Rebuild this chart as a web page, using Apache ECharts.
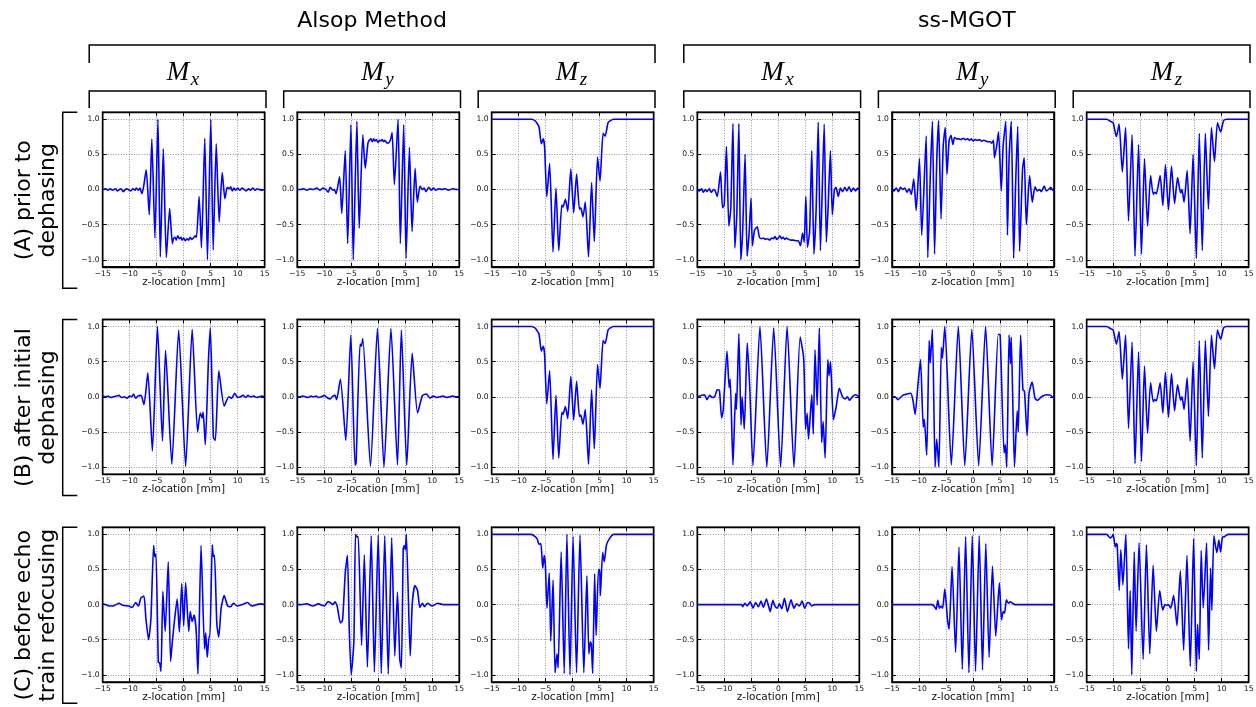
<!DOCTYPE html>
<html><head><meta charset="utf-8">
<script src="https://cdn.jsdelivr.net/npm/echarts@6.0.0/dist/echarts.min.js"></script>
<style>html,body{margin:0;padding:0;background:#fff}#c{width:1256px;height:707px}</style>
</head><body><div id="c"></div>
<script>
// ---------- tick labels / categories ----------
const xTicks = [-15, -10, -5, 0, 5, 10, 15];
const methods = ['Alsop Method', 'ss-MGOT'];
const components = ['x', 'y', 'z'];
const rowLabels = ['(A) prior to\ndephasing', '(B) after initial\ndephasing', '(C) before echo\ntrain refocusing'];
const xName = 'z-location [mm]';

// ---------- series values: [z (mm), magnetization] ----------
const alsopPriorMx = [[-15,0.0],[-14.5,0.01],[-14,-0.01],[-13.6,0.01],[-13.2,-0.01],[-12.6,0.01],[-12.3,-0.02],[-11.9,0.0],[-11.6,0.01],[-11.2,-0.03],[-10.8,0.0],[-10.5,0.01],[-10.1,-0.01],[-9.8,-0.02],[-9.4,0.01],[-9.0,-0.01],[-8.8,0.02],[-8.4,-0.01],[-8.1,0.02],[-7.75,-0.06],[-7.4,0.05],[-6.94,0.28],[-6.38,-0.36],[-5.9,0.72],[-5.33,-0.69],[-4.77,1.0],[-4.33,-0.96],[-3.78,0.58],[-3.22,-0.97],[-2.6,-0.27],[-2.1,-0.77],[-1.9,-0.7],[-1.6,-0.68],[-1.4,-0.72],[-1.1,-0.66],[-0.8,-0.7],[-0.5,-0.68],[-0.3,-0.72],[0,-0.69],[0.3,-0.73],[0.6,-0.7],[0.9,-0.72],[1.2,-0.68],[1.5,-0.71],[1.8,-0.69],[2.1,-0.66],[2.36,-0.68],[2.86,-0.1],[3.29,-0.83],[3.9,0.73],[4.4,-1.0],[5.02,1.0],[5.46,-0.86],[6.02,0.65],[6.57,-0.46],[7.13,0.24],[7.63,-0.13],[8.06,0.03],[8.4,0.01],[8.7,0.04],[9.0,-0.02],[9.3,0.02],[9.6,-0.01],[10.0,0.02],[10.4,-0.01],[10.8,0.02],[11.2,0.0],[11.6,-0.02],[12.0,0.01],[12.4,-0.01],[12.8,0.02],[13.2,-0.01],[13.6,0.01],[14.0,0.0],[14.5,-0.01],[15,0.0]];
const alsopPriorMy = [[-15,0],[-14.4,0.0],[-13.8,0.01],[-13.2,-0.01],[-12.6,0.01],[-12.0,0.0],[-11.4,0.02],[-10.8,-0.01],[-10.2,0.02],[-9.7,0.0],[-9.25,-0.04],[-8.9,0.03],[-8.4,-0.01],[-8.1,0.0],[-7.8,-0.06],[-7.15,0.18],[-6.75,-0.34],[-6.1,0.55],[-5.65,-0.77],[-5.05,0.92],[-4.62,-1.0],[-3.95,0.97],[-3.52,-0.55],[-2.85,0.78],[-2.4,0.3],[-1.9,0.66],[-1.65,0.7],[-1.35,0.72],[-1.1,0.68],[-0.85,0.72],[-0.6,0.69],[-0.35,0.71],[-0.05,0.67],[0.25,0.7],[0.5,0.69],[0.75,0.71],[1.0,0.68],[1.25,0.7],[1.5,0.67],[1.85,0.66],[2.25,0.7],[2.58,0.81],[3.0,0.07],[3.68,1.0],[4.1,-0.77],[4.72,0.92],[5.16,-0.98],[5.78,0.6],[6.27,-0.6],[6.83,0.3],[7.25,-0.18],[7.75,0.05],[8.15,0.0],[8.5,0.02],[8.85,-0.03],[9.35,0.03],[9.8,-0.01],[10.2,0.02],[10.7,-0.01],[11.2,0.01],[11.8,0.0],[12.4,0.01],[13.0,-0.01],[13.8,0.01],[14.4,0.0],[15,0.0]];
const alsopMz = [[-15,1],[-12,1],[-9,1],[-7.6,1.0],[-7.0,0.98],[-6.67,0.95],[-6.23,0.89],[-5.8,0.65],[-5.45,0.72],[-5.2,0.6],[-4.8,-0.1],[-4.27,0.37],[-3.65,-0.89],[-3.1,0.02],[-2.58,-0.87],[-2.02,-0.22],[-1.8,-0.25],[-1.35,-0.14],[-0.92,-0.31],[-0.35,0.29],[0.18,-0.33],[0.72,0.22],[1.25,-0.28],[1.5,-0.26],[1.9,-0.39],[2.33,-0.18],[2.93,-0.96],[3.5,0.1],[4.0,-0.74],[4.6,0.46],[5.06,0.12],[5.62,0.8],[6.0,0.76],[6.55,0.95],[7.0,0.98],[7.5,1.0],[9,1],[12,1],[15,1]];
const ssPriorMx = [[-15,0.0],[-14.6,-0.02],[-14.2,0.01],[-13.9,-0.04],[-13.5,0.0],[-13.2,-0.03],[-12.8,0.01],[-12.4,-0.04],[-12.0,0.0],[-11.7,-0.02],[-11.3,-0.1],[-10.7,0.25],[-10.33,-0.26],[-10.02,-0.22],[-9.6,0.61],[-9.16,-0.52],[-8.8,-0.27],[-8.4,0.94],[-8.05,-0.83],[-7.7,-0.38],[-7.3,0.94],[-6.95,-1.0],[-6.6,-0.59],[-6.15,0.5],[-5.78,-0.95],[-5.4,-0.62],[-5.05,-0.12],[-4.8,-0.8],[-4.4,-0.58],[-3.9,-0.53],[-3.5,-0.68],[-3.1,-0.7],[-2.8,-0.69],[-2.4,-0.71],[-2.0,-0.7],[-1.6,-0.72],[-1.2,-0.69],[-0.9,-0.7],[-0.6,-0.67],[-0.3,-0.71],[0,-0.69],[0.3,-0.66],[0.6,-0.7],[0.9,-0.68],[1.2,-0.71],[1.5,-0.69],[1.9,-0.71],[2.3,-0.72],[2.8,-0.72],[3.3,-0.73],[3.7,-0.73],[4.1,-0.8],[4.5,-0.62],[4.8,-0.75],[5.1,-0.1],[5.4,-0.82],[5.8,-0.6],[6.2,0.55],[6.6,-0.92],[7.0,-0.3],[7.4,0.96],[7.8,-0.87],[8.5,0.93],[8.9,-0.75],[9.2,-0.3],[9.65,0.55],[10.0,-0.36],[10.4,0.0],[10.7,0.03],[11.1,-0.1],[11.5,0.02],[11.9,-0.03],[12.3,0.03],[12.7,-0.02],[13.1,0.04],[13.5,-0.03],[13.9,0.02],[14.3,-0.02],[14.7,0.02],[15,0.0]];
const ssPriorMy = [[-15,0.0],[-14.6,-0.02],[-14.2,0.02],[-13.8,-0.03],[-13.4,0.03],[-13.0,0.0],[-12.6,0.02],[-12.2,-0.04],[-11.8,0.01],[-11.4,-0.07],[-10.95,0.15],[-10.5,-0.3],[-9.9,0.44],[-9.47,-0.65],[-8.65,0.76],[-8.35,-0.97],[-7.85,0.3],[-7.5,0.97],[-7.1,-0.92],[-6.7,0.4],[-6.35,0.98],[-5.9,-0.42],[-5.5,0.62],[-5.12,0.88],[-4.8,0.22],[-4.4,0.7],[-4.05,0.77],[-3.7,0.64],[-3.4,0.74],[-3.0,0.72],[-2.6,0.72],[-2.2,0.71],[-1.8,0.73],[-1.4,0.71],[-1.0,0.72],[-0.6,0.7],[-0.3,0.72],[0,0.69],[0.4,0.71],[0.8,0.7],[1.2,0.71],[1.6,0.69],[2.0,0.7],[2.4,0.69],[2.8,0.68],[3.2,0.68],[3.5,0.66],[3.8,0.7],[4.0,0.45],[4.4,0.62],[4.75,0.82],[5.25,-0.02],[5.6,0.62],[6.1,0.97],[6.4,-0.65],[6.7,0.44],[7.1,0.97],[7.55,-0.98],[7.9,0.05],[8.3,0.9],[8.65,-0.88],[9.2,0.3],[9.5,0.45],[9.9,-0.5],[10.5,0.2],[11.0,-0.18],[11.5,0.04],[11.9,-0.02],[12.3,0.0],[12.7,-0.03],[13.2,0.05],[13.6,-0.02],[14.0,0.0],[14.4,0.03],[14.8,-0.01],[15,-0.02]];
const ssMz = [[-15,1],[-13,1],[-11.3,1.0],[-10.6,0.97],[-10.1,0.95],[-9.5,0.75],[-9.0,0.93],[-8.4,0.25],[-7.8,0.88],[-7.25,-0.45],[-6.6,0.78],[-6.05,-0.95],[-5.4,0.64],[-4.86,-0.92],[-4.3,0.44],[-3.73,-0.52],[-3.17,0.2],[-2.68,-0.07],[-2.4,-0.04],[-2.1,-0.06],[-1.4,0.2],[-0.9,-0.23],[-0.42,0.35],[0.14,-0.29],[0.7,0.33],[1.27,-0.2],[1.83,0.17],[2.4,-0.05],[2.65,0.0],[3.03,-0.18],[3.6,0.27],[4.15,-0.63],[4.7,0.5],[5.3,-0.98],[5.85,0.8],[6.4,-0.87],[6.97,0.8],[7.54,-0.28],[8.1,0.88],[8.66,0.4],[9.22,0.95],[9.8,0.82],[10.35,0.98],[10.9,1.0],[13,1],[15,1]];

const alsopAfterMx = [[-15,0.01],[-14.5,0.0],[-14,0.01],[-13.5,-0.01],[-13,0.0],[-12.5,0.01],[-12.0,0.02],[-11.5,-0.01],[-11.0,0.0],[-10.5,-0.02],[-10.0,0.01],[-9.6,0.0],[-9.3,0.04],[-8.9,-0.02],[-8.5,0.01],[-7.9,0.02],[-7.36,-0.11],[-6.64,0.34],[-5.8,-0.77],[-4.86,1.0],[-3.93,-0.63],[-3.36,0.66],[-2.2,-0.96],[-0.93,0.95],[0.36,-0.99],[1.57,0.96],[2.57,-0.5],[3.07,-0.23],[3.4,-0.3],[3.6,-0.22],[4.0,-0.68],[4.57,0.5],[4.93,0.98],[5.5,-0.58],[5.86,-0.62],[6.5,0.37],[7.5,-0.13],[8.36,0.0],[8.9,-0.02],[9.43,0.05],[10.0,-0.01],[10.5,0.0],[11.0,0.02],[11.5,-0.01],[11.9,0.02],[12.4,0.0],[13.0,0.01],[13.5,-0.01],[14.0,0.0],[14.5,0.01],[15,0.0]];
const alsopAfterMy = [[-15,0.0],[-14.5,0.0],[-14,0.01],[-13.5,0.0],[-13,-0.01],[-12.5,0.01],[-12,0.0],[-11.5,0.01],[-11,-0.01],[-10.5,0.0],[-10,0.02],[-9.5,-0.01],[-8.9,-0.03],[-8.4,0.01],[-8.0,0.02],[-7.7,-0.04],[-7.0,0.25],[-6.0,-0.62],[-5.07,0.88],[-4.29,-0.97],[-4.1,-0.95],[-3.36,0.75],[-3.1,0.72],[-2.86,0.83],[-1.43,-0.99],[-0.14,0.97],[1.07,-1.0],[2.36,0.97],[3.57,-0.97],[4.29,0.95],[5.29,-0.97],[6.29,0.62],[7.29,-0.23],[8.2,0.02],[8.9,0.04],[9.6,-0.02],[10.2,0.01],[10.8,-0.01],[11.4,0.0],[12,0.01],[12.6,-0.01],[13.2,0.0],[13.8,0.01],[14.4,0.0],[15,0.0]];
const ssAfterMx = [[-15,0.0],[-14.3,0.02],[-13.7,0.03],[-13.2,-0.04],[-12.7,0.02],[-12.2,-0.01],[-11.8,0.0],[-11.3,0.1],[-10.9,0.09],[-10.5,-0.3],[-10.2,-0.19],[-9.5,0.65],[-9.1,0.13],[-8.9,0.25],[-8.4,-0.97],[-7.9,0.05],[-7.75,-0.18],[-7.3,0.9],[-6.9,-0.4],[-6.7,0.0],[-6.3,-0.46],[-5.75,0.77],[-5.3,0.15],[-4.7,-0.98],[-3.4,1.0],[-2.13,-1.0],[-0.85,0.98],[0.43,-1.0],[1.63,1.0],[2.9,-1.0],[4.05,0.85],[4.7,0.55],[5.05,-0.46],[5.33,-0.23],[5.6,-0.6],[6.2,0.03],[6.47,-0.53],[6.8,0.67],[7.2,-0.12],[7.6,0.98],[8.03,-0.65],[8.3,-0.35],[8.67,-0.87],[9.17,0.53],[9.4,0.3],[9.67,0.5],[10.2,-0.33],[10.7,-0.15],[11.3,0.12],[11.9,0.0],[12.4,-0.03],[12.8,0.0],[13.2,-0.05],[13.7,0.0],[14.3,0.03],[15,0.0]];
const ssAfterMy = [[-15,0.0],[-14.4,0.0],[-13.9,-0.04],[-13.0,0.02],[-12.2,0.04],[-11.5,0.05],[-11.1,-0.05],[-10.7,-0.25],[-10.2,0.15],[-9.7,0.53],[-9.2,-0.43],[-9.0,-0.32],[-8.55,-0.83],[-8.1,0.8],[-7.9,0.48],[-7.5,0.96],[-7.0,-1.0],[-6.7,-0.6],[-6.3,-1.0],[-5.85,0.7],[-5.65,0.55],[-5.2,1.0],[-4.0,-0.97],[-2.7,1.0],[-1.5,-0.98],[-0.2,0.96],[1.07,-0.98],[2.35,1.0],[3.56,-0.98],[4.7,0.89],[5.05,0.88],[5.77,-0.8],[6.0,-0.68],[6.27,-1.0],[6.7,0.88],[6.98,0.47],[7.1,0.85],[7.7,-1.0],[8.2,-0.2],[8.4,-0.5],[8.83,0.88],[9.26,0.1],[9.55,0.08],[10.04,-0.55],[10.4,0.05],[10.97,0.21],[11.5,-0.02],[12.0,-0.05],[12.7,0.0],[13.7,0.03],[14.4,0.02],[15,-0.02]];

const alsopEchoMx = [[-15,0.01],[-14.5,0.0],[-13.8,-0.02],[-13.1,-0.02],[-12.5,0.0],[-12.0,0.02],[-11.3,-0.01],[-10.2,-0.02],[-9.5,-0.04],[-8.9,0.03],[-8.4,-0.02],[-7.9,0.1],[-7.36,0.12],[-7.0,-0.2],[-6.5,-0.5],[-6.07,-0.2],[-5.57,0.84],[-5.36,0.68],[-5.14,0.72],[-4.7,-0.82],[-4.45,-0.83],[-4.2,-0.95],[-3.86,0.19],[-3.43,-0.38],[-2.86,0.61],[-2.43,-0.81],[-2.07,-0.5],[-1.64,-0.18],[-1.21,0.08],[-0.8,-0.39],[-0.36,0.3],[0,-0.3],[0.36,0.31],[0.93,-0.38],[1.21,-0.1],[1.57,-0.24],[1.93,-0.15],[2.3,-0.36],[2.64,-0.99],[3.21,0.84],[3.86,-0.63],[4.07,-0.4],[4.36,-0.75],[4.71,-0.45],[4.86,-0.45],[5.29,0.85],[5.5,0.68],[5.7,0.7],[6.14,-0.28],[6.5,-0.46],[6.93,-0.05],[7.5,0.13],[8.14,-0.02],[8.7,-0.03],[9.2,0.02],[9.93,-0.02],[10.9,0.0],[11.8,0.03],[12.6,-0.02],[13.5,0.0],[14.3,0.01],[15,0.0]];
const alsopEchoMy = [[-15,0.0],[-14.3,0.0],[-13.2,0.01],[-12.1,-0.02],[-11.1,0.01],[-10.0,-0.02],[-9.3,0.04],[-8.9,0.03],[-8.4,0.0],[-8.0,0.04],[-7.6,-0.02],[-7.0,-0.26],[-6.6,-0.22],[-6.1,0.45],[-5.7,0.7],[-5.36,-0.35],[-5.0,-1.0],[-4.5,-0.52],[-4.2,1.0],[-3.9,0.96],[-3.7,0.97],[-3.07,-0.58],[-2.57,0.71],[-2.0,-0.89],[-1.29,0.98],[-0.71,-0.96],[0,0.99],[0.57,-0.98],[1.21,0.98],[1.86,-0.99],[2.5,0.95],[3.07,-0.73],[3.57,0.18],[4.0,-0.78],[4.29,-0.9],[4.64,0.8],[4.85,0.84],[5.05,0.78],[5.21,1.0],[5.93,-0.73],[6.3,0.0],[6.79,0.27],[7.29,0.2],[7.71,-0.04],[8.2,0.02],[8.57,-0.03],[9.14,0.02],[10,-0.02],[11,0.02],[12,0.0],[13.5,0.0],[15,0.0]];
const alsopEchoMz = [[-15,1],[-10,1],[-7.7,1.0],[-7.0,0.97],[-6.55,0.93],[-6.26,0.86],[-5.9,0.87],[-5.55,0.52],[-5.27,0.7],[-5.05,0.55],[-4.77,-0.05],[-4.34,0.45],[-4.06,-0.52],[-3.63,0.35],[-3.27,-0.97],[-2.92,-0.7],[-2.7,-0.9],[-2.14,0.75],[-1.57,-0.98],[-1.07,1.0],[-0.5,-1.0],[0.07,0.97],[0.71,-0.97],[1.35,0.99],[2.06,-0.97],[2.63,0.41],[2.99,-0.7],[3.27,-0.53],[3.45,-0.56],[3.7,-0.98],[4.06,0.44],[4.34,-0.44],[4.77,0.5],[5.0,0.5],[5.12,0.13],[5.55,0.74],[5.84,0.61],[6.26,0.85],[6.9,0.95],[7.6,1.0],[10,1],[15,1]];
const ssEchoMx = [[-15,0],[-10,0],[-7.2,0.0],[-6.8,0.0],[-6.6,-0.03],[-6.2,0.02],[-5.76,-0.02],[-5.2,0.04],[-4.7,-0.05],[-4.2,0.03],[-3.7,-0.03],[-3.2,0.05],[-2.77,-0.04],[-2.2,0.08],[-1.8,-0.02],[-1.5,-0.1],[-1.0,0.06],[-0.57,-0.03],[-0.2,-0.05],[0.2,0.01],[0.64,-0.06],[1.14,0.09],[1.7,-0.1],[2.35,0.07],[2.9,-0.05],[3.4,0.01],[3.9,-0.02],[4.4,0.05],[4.9,-0.05],[5.4,0.03],[5.8,0.02],[6.2,-0.02],[6.7,0.0],[7.2,0.0],[10,0],[15,0]];
const ssEchoMy = [[-15,0],[-10,0],[-7.55,0.0],[-7.1,-0.03],[-6.8,-0.07],[-6.5,0.06],[-6.2,-0.05],[-5.9,-0.02],[-5.6,-0.05],[-5.2,0.22],[-4.72,-0.2],[-4.4,-0.35],[-3.86,0.54],[-3.2,-0.68],[-2.58,0.82],[-1.96,-0.92],[-1.35,0.97],[-0.74,-0.97],[-0.12,0.98],[0.49,-0.95],[1.17,0.98],[1.78,-0.93],[2.39,0.87],[3.0,-0.75],[3.62,0.55],[4.23,-0.45],[4.9,0.31],[5.3,-0.22],[5.6,-0.1],[5.86,-0.12],[6.2,0.07],[6.55,0.02],[6.9,0.04],[7.3,0.02],[7.8,0.0],[10,0],[15,0]];
const ssEchoMz = [[-15,1],[-12,1],[-11.3,1.0],[-10.65,0.95],[-10.3,0.97],[-10.1,1.0],[-9.7,0.82],[-9.5,0.87],[-9.35,0.85],[-8.98,0.2],[-8.68,0.78],[-8.3,0.28],[-7.75,1.0],[-7.26,-0.63],[-6.95,0.2],[-6.65,-1.0],[-6.2,0.75],[-5.85,-0.38],[-5.3,0.88],[-4.55,-0.78],[-3.94,0.85],[-3.32,-0.7],[-2.7,0.56],[-2.1,-0.38],[-1.48,0.2],[-0.92,-0.08],[-0.5,0.0],[-0.2,-0.01],[0.12,0.0],[0.55,-0.05],[1.1,0.13],[1.72,-0.3],[2.34,0.48],[2.95,-0.65],[3.57,0.7],[4.18,-0.88],[4.8,0.94],[5.3,-0.95],[5.54,-0.28],[5.85,-0.78],[6.2,0.77],[6.58,-0.05],[7.2,0.88],[7.57,-0.65],[7.94,0.52],[8.18,-0.08],[8.55,0.98],[9.1,0.74],[9.48,0.92],[9.78,0.75],[10.15,0.96],[10.58,0.97],[11.2,1.0],[13,1],[15,1]];

const panels = [
  [alsopPriorMx, alsopPriorMy, alsopMz, ssPriorMx, ssPriorMy, ssMz],
  [alsopAfterMx, alsopAfterMy, alsopMz, ssAfterMx, ssAfterMy, ssMz],
  [alsopEchoMx, alsopEchoMy, alsopEchoMz, ssEchoMx, ssEchoMy, ssEchoMz]
];

// ---------- layout ----------
const colLeft = [102.7, 297.2, 491.7, 697.3, 891.9, 1086.7];
const colW = 162;
const rowTop = [112.2, 319.5, 527.3];
const rowH = 154.6;
const FONT = 'DejaVu Sans';
const minus = s => s.replace('-', '\u2212');

const grids = [], xAxes = [], yAxes = [], series = [];
panels.forEach((row, r) => row.forEach((data, c) => {
  const gi = grids.length;
  grids.push({left: colLeft[c], top: rowTop[r], width: colW, height: rowH,
    show: true, borderColor: '#000', borderWidth: 1.4, backgroundColor: '#fff',
    containLabel: false, outerBoundsMode: 'none'});
  const tick = {show: true, inside: true, length: 4, lineStyle: {color: '#000', width: 1}};
  const line = {show: true, onZero: false, lineStyle: {color: '#000', width: 1.4}};
  const grid = {show: true, lineStyle: {color: '#666', width: 0.7, type: [1, 1.6]}};
  xAxes.push({type: 'value', gridIndex: gi, position: 'bottom', min: xTicks[0], max: xTicks[xTicks.length - 1], interval: 5,
    axisLine: line, axisTick: tick,
    axisLabel: {show: true, fontSize: 7.6, color: '#111', fontFamily: FONT, margin: 3, formatter: v => minus(String(v))},
    splitLine: grid,
    name: xName, nameLocation: 'middle', nameGap: 10, nameMoveOverlap: false,
    nameTextStyle: {fontSize: 10.5, color: '#111', fontFamily: FONT}});
  xAxes.push({type: 'value', gridIndex: gi, position: 'top', min: xTicks[0], max: xTicks[xTicks.length - 1], interval: 5,
    axisLine: line, axisTick: tick, axisLabel: {show: false}, splitLine: {show: false}});
  yAxes.push({type: 'value', gridIndex: gi, position: 'left', min: -1.1, max: 1.1, splitNumber: 5,
    axisLine: line, axisTick: tick,
    axisLabel: {show: true, fontSize: 7.6, color: '#111', fontFamily: FONT, margin: 3, showMinLabel: false, showMaxLabel: false,
      formatter: v => minus(v.toFixed(1))},
    splitLine: Object.assign({showMinLine: false, showMaxLine: false}, grid)});
  yAxes.push({type: 'value', gridIndex: gi, position: 'right', min: -1.1, max: 1.1, splitNumber: 5,
    axisLine: line, axisTick: tick, axisLabel: {show: false}, splitLine: {show: false}});
  series.push({type: 'line', xAxisIndex: 2 * gi, yAxisIndex: 2 * gi, data: data,
    showSymbol: false, symbol: 'none', smooth: 0.2, clip: true, silent: true,
    lineStyle: {color: '#0000ff', width: 1.6}, z: 3});
}));

// ---------- decorations: headers, brackets, row labels ----------
const graphic = [];
const stroke = {stroke: '#000', lineWidth: 1.5, fill: null};
function bracketDown(x1, x2, y1, y2) {
  graphic.push({type: 'polyline', shape: {points: [[x1, y2], [x1, y1], [x2, y1], [x2, y2]]}, style: stroke, silent: true});
}
function bracketRight(y1, y2, x1, x2) {
  graphic.push({type: 'polyline', shape: {points: [[x2, y1], [x1, y1], [x1, y2], [x2, y2]]}, style: stroke, silent: true});
}
methods.forEach((m, k) => {
  const c0 = 3 * k, c2 = 3 * k + 2;
  const xl = colLeft[c0] - 13.5, xr = colLeft[c2] + colW + 1.3;
  bracketDown(xl, xr, 45, 63);
  graphic.push({type: 'text', x: (xl + xr) / 2, y: 21, silent: true,
    style: {text: m, fontSize: 22, fontFamily: FONT, fill: '#000', textAlign: 'center', textVerticalAlign: 'middle'}});
  components.forEach((comp, j) => {
    const c = c0 + j;
    const cx = colLeft[c] + colW / 2;
    bracketDown(colLeft[c] - 13.5, colLeft[c] + colW + 1.3, 91, 108);
    graphic.push({type: 'text', x: cx - 17, y: 73, silent: true,
      style: {text: 'M', fontSize: 27, fontStyle: 'italic', fontFamily: 'Liberation Serif', fill: '#000', textAlign: 'left', textVerticalAlign: 'middle'}});
    graphic.push({type: 'text', x: cx + 7, y: 80, silent: true,
      style: {text: comp, fontSize: 19, fontStyle: 'italic', fontFamily: 'Liberation Serif', fill: '#000', textAlign: 'left', textVerticalAlign: 'middle'}});
  });
});
rowLabels.forEach((lab, r) => {
  const y1 = rowTop[r], y2 = rowTop[r] + 176;
  bracketRight(y1, y2, 62.7, 77.3);
  graphic.push({type: 'text', x: 36, y: (y1 + y2) / 2, rotation: Math.PI / 2, silent: true,
    style: {text: lab, fontSize: 22, lineHeight: 24, fontFamily: FONT, fill: '#000', textAlign: 'center', textVerticalAlign: 'middle'}});
});

const chart = echarts.init(document.getElementById('c'), null, {renderer: 'canvas'});
chart.setOption({
  animation: false,
  backgroundColor: '#fff',
  grid: grids, xAxis: xAxes, yAxis: yAxes, series: series, graphic: graphic
});
</script>
</body></html>
